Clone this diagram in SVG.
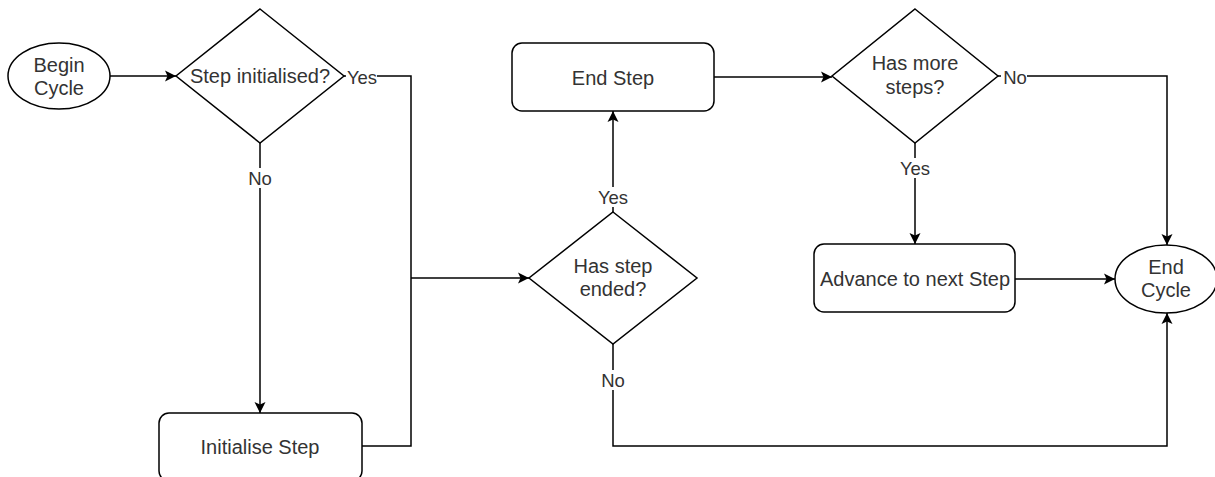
<svg xmlns="http://www.w3.org/2000/svg" width="1215" height="477" viewBox="0 0 1215 477">
  <defs>
    <marker id="arrow" markerUnits="userSpaceOnUse" markerWidth="13" markerHeight="13" viewBox="0 0 13 13" refX="12" refY="6.5" orient="auto">
      <path d="M1,1 L12,6.5 L1,12 L3.5,6.5 Z" fill="#000"/>
    </marker>
    <style>
      .shape { fill: #fff; stroke: #000; stroke-width: 1.5; }
      .edge { fill: none; stroke: #000; stroke-width: 1.5; }
      .arrow { marker-end: url(#arrow); }
      text { font-family: "Liberation Sans", Arial, sans-serif; font-size: 20px; fill: #333; text-anchor: middle; dominant-baseline: central; }
      .lbl { font-size: 18.5px; }
      .lblbg { fill: #fff; stroke: none; }
    </style>
  </defs>

  <g id="connectors">
    <path class="edge arrow" d="M110,76 L176,76"/>
    <path class="edge" d="M344,76 L411,76 L411,446 L362,446"/>
    <path class="edge arrow" d="M411,278 L529,278"/>
    <path class="edge arrow" d="M260,143 L260,413"/>
    <path class="edge arrow" d="M613,212 L613,111"/>
    <path class="edge arrow" d="M714,77 L832,77"/>
    <path class="edge arrow" d="M998,76 L1167,76 L1167,245"/>
    <path class="edge arrow" d="M915,143 L915,244"/>
    <path class="edge arrow" d="M1015,279 L1115,279"/>
    <path class="edge arrow" d="M613,344 L613,446 L1167,446 L1167,313"/>
    <!-- edge labels -->
    <rect class="lblbg" x="346" y="66" width="31" height="20"/>
    <text class="lbl" x="362" y="77">Yes</text>
    <rect class="lblbg" x="248" y="168" width="24" height="20"/>
    <text class="lbl" x="260" y="178">No</text>
    <rect class="lblbg" x="597" y="187" width="32" height="20"/>
    <text class="lbl" x="613" y="197">Yes</text>
    <rect class="lblbg" x="601" y="370" width="24" height="20"/>
    <text class="lbl" x="613" y="380">No</text>
    <rect class="lblbg" x="1001" y="66" width="26" height="20"/>
    <text class="lbl" x="1015" y="77">No</text>
    <rect class="lblbg" x="899" y="158" width="32" height="20"/>
    <text class="lbl" x="915" y="168">Yes</text>
  </g>

  <g id="begin-cycle">
    <ellipse class="shape" cx="59" cy="76" rx="51" ry="33"/>
    <text x="59" y="65">Begin</text>
    <text x="59" y="88">Cycle</text>
  </g>

  <g id="step-initialised">
    <path class="shape" d="M260,9 L344,76 L260,143 L176,76 Z"/>
    <text x="260" y="76">Step initialised?</text>
  </g>

  <g id="initialise-step">
    <rect class="shape" x="159" y="413" width="203" height="68" rx="10"/>
    <text x="260" y="447">Initialise Step</text>
  </g>

  <g id="has-step-ended">
    <path class="shape" d="M613,212 L697,278 L613,344 L529,278 Z"/>
    <text x="613" y="266">Has step</text>
    <text x="613" y="289">ended?</text>
  </g>

  <g id="end-step">
    <rect class="shape" x="512" y="43" width="202" height="68" rx="10"/>
    <text x="613" y="78">End Step</text>
  </g>

  <g id="has-more-steps">
    <path class="shape" d="M915,9 L998,76 L915,143 L832,76 Z"/>
    <text x="915" y="63">Has more</text>
    <text x="915" y="87">steps?</text>
  </g>

  <g id="advance-step">
    <rect class="shape" x="814" y="244" width="201" height="68" rx="10"/>
    <text x="915" y="279">Advance to next Step</text>
  </g>

  <g id="end-cycle">
    <ellipse class="shape" cx="1166" cy="279" rx="51" ry="34"/>
    <text x="1166" y="267">End</text>
    <text x="1166" y="290">Cycle</text>
  </g>
</svg>
